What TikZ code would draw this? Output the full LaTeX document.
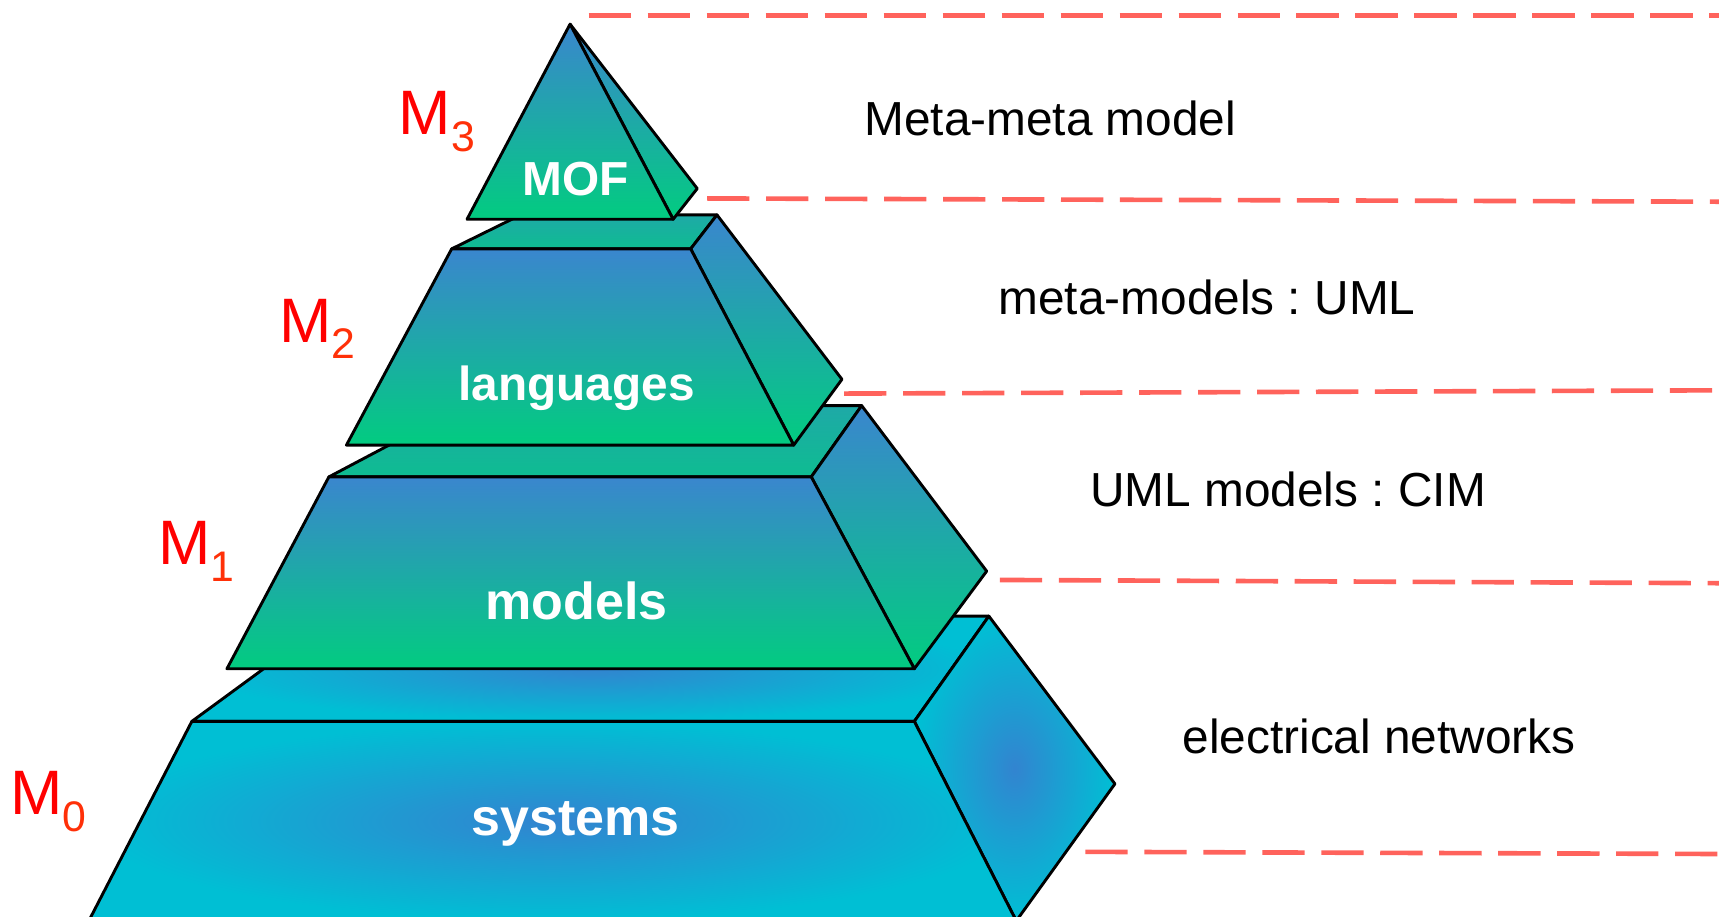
\documentclass[tikz,border=0pt]{standalone}
\usepackage{fontspec}
\setmainfont{Liberation Sans}
\usetikzlibrary{shadings}
\frenchspacing

\definecolor{lvlblue}{RGB}{58,134,206}
\definecolor{lvlgreen}{RGB}{2,204,128}
\definecolor{sysblue}{RGB}{50,132,208}
\definecolor{syscyan}{RGB}{0,191,212}
\definecolor{sepred}{RGB}{255,99,92}
\definecolor{subred}{RGB}{255,48,8}

\newcommand{\mlev}[1]{{\fontsize{16.3}{18}\selectfont M}\raisebox{-4.3pt}{\color{subred}\fontsize{11.1}{13}\selectfont #1}}

\begin{document}
\begin{tikzpicture}[x=0.1mm,y=-0.1mm,
        face/.style={draw=black,line width=0.75pt,line join=round},
        frontface/.style={face,top color=lvlblue,bottom color=lvlgreen},
        topface/.style={face,top color=lvlblue!50!lvlgreen,bottom color=lvlblue!22!lvlgreen},
        sysface/.style={face,inner color=sysblue,outer color=syscyan},
        sepline/.style={draw=sepred,line width=1.2pt,dash pattern=on 3.86mm off 1.52mm},
        tag/.style={anchor=base,text=white,font=\bfseries\fontsize{12.4}{14}\selectfont},
        bigtag/.style={tag,font=\bfseries\fontsize{13.5}{15}\selectfont},
        layer/.style={anchor=base,font=\fontsize{12.4}{14}\selectfont},
        level/.style={anchor=base west,text=red,inner sep=0pt}]
        \useasboundingbox (0,0) rectangle (1568,836);
        \clip (0,0) rectangle (1568,836);

        % M0 : systems
        \coordinate (s1) at (175,658);
        \coordinate (s2) at (834,658);
        \coordinate (s3) at (902,562);
        \coordinate (s4) at (306,562);
        \coordinate (s5) at (1017,715);
        \coordinate (s6) at (927,840);
        \coordinate (s7) at (81,840);
        \draw[sysface] (s1) -- (s2) -- (s3) -- (s4) -- cycle;
        \draw[sysface] (s2) -- (s3) -- (s5) -- (s6) -- cycle;
        \draw[sysface] (s7) -- (s1) -- (s2) -- (s6) -- cycle;

        % M1 : models
        \coordinate (m1) at (300,435);
        \coordinate (m2) at (740,435);
        \coordinate (m3) at (786,370);
        \coordinate (m4) at (423,370);
        \coordinate (m5) at (900,521);
        \coordinate (m6) at (834,610);
        \coordinate (m7) at (207,610);
        \draw[topface] (m1) -- (m2) -- (m3) -- (m4) -- cycle;
        \draw[frontface] (m2) -- (m3) -- (m5) -- (m6) -- cycle;
        \draw[frontface] (m7) -- (m1) -- (m2) -- (m6) -- cycle;

        % M2 : languages
        \coordinate (l1) at (412,227);
        \coordinate (l2) at (630,227);
        \coordinate (l3) at (654,196);
        \coordinate (l4) at (475,196);
        \coordinate (l5) at (768,346);
        \coordinate (l6) at (724,406);
        \coordinate (l7) at (316,406);
        \draw[topface] (l1) -- (l2) -- (l3) -- (l4) -- cycle;
        \draw[frontface] (l2) -- (l3) -- (l5) -- (l6) -- cycle;
        \draw[frontface] (l7) -- (l1) -- (l2) -- (l6) -- cycle;

        % M3 : MOF
        \coordinate (t0) at (520,22);
        \coordinate (t1) at (426,200);
        \coordinate (t2) at (614,200);
        \coordinate (t3) at (636,172);
        \draw[frontface] (t0) -- (t3) -- (t2) -- cycle;
        \draw[frontface] (t0) -- (t2) -- (t1) -- cycle;

        \node[tag] (mof) at (525,178) {MOF};
        \node[tag] (lang) at (526,365) {languages};
        \node[bigtag] (mods) at (526,565) {models};
        \node[bigtag] (sys) at (525,762) {systems};

        % Level names
        \node[level] (lev3) at (363,123) {\mlev{3}};
        \node[level] (lev2) at (254,312) {\mlev{2}};
        \node[level] (lev1) at (144,515) {\mlev{1}};
        \node[level] (lev0) at (9,743) {\mlev{0}};

        % Separators
        \coordinate (d1a) at (537,14);  \coordinate (d1b) at (1575,14);
        \coordinate (d2a) at (645,181); \coordinate (d2b) at (1575,184);
        \coordinate (d3a) at (770,359); \coordinate (d3b) at (1575,356);
        \coordinate (d4a) at (912,529); \coordinate (d4b) at (1575,532);
        \coordinate (d5a) at (990,777); \coordinate (d5b) at (1575,779);
        \draw[sepline] (d1a) -- (d1b);
        \draw[sepline] (d2a) -- (d2b);
        \draw[sepline] (d3a) -- (d3b);
        \draw[sepline] (d4a) -- (d4b);
        \draw[sepline] (d5a) -- (d5b);

        % Layer descriptions
        \node[layer] (mmm) at (958,124) {Meta-meta model};
        \node[layer] (mm) at (1101,287) {meta-models : UML};
        \node[layer] (um) at (1175,462) {UML models : CIM};
        \node[layer] (en) at (1258,687) {electrical networks};
    \end{tikzpicture}
\end{document}
